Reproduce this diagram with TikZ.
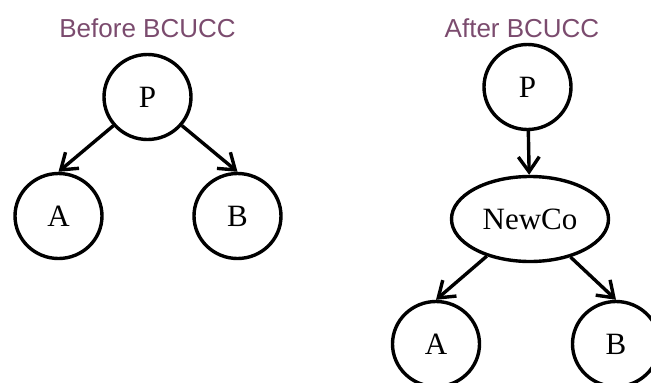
\documentclass[tikz,border=0pt]{standalone}
\usepackage{fontspec}
\setmainfont{Liberation Serif}
\newfontfamily\headfont{Liberation Sans}
\usepackage{xcolor}
\usetikzlibrary{positioning,arrows.meta,shapes.geometric}
\definecolor{headpurple}{HTML}{7B4B6E}

\begin{document}
\begin{tikzpicture}[
    x=1pt, y=-1pt,
    entity/.style={draw, ellipse, line width=3.4pt, inner sep=0pt,
                   minimum width=#1, minimum height=85pt,
                   font=\fontsize{31}{33}\selectfont},
    entity/.default=87pt,
    arrow/.style={-{Straight Barb[length=15pt,width=21pt]}, line width=3.4pt},
    head/.style={font=\headfont\fontsize{26}{28}\selectfont, text=headpurple},
  ]
  \useasboundingbox (0,0) rectangle (651,383);
  \clip (0,0) rectangle (651,383);

  % Before
  \node[entity] (pl) at (147.5,97) {P};
  \node[entity] (al) at (58.5,216) {A};
  \node[entity] (bl) at (237.5,216) {B};
  \node[head] (hl) at (147.5,28) {Before BCUCC};

  % After
  \node[entity] (pr) at (527.5,87) {P};
  \node[entity=157pt] (nc) at (530,219) {NewCo};
  \node[entity] (ar) at (436,344) {A};
  \node[entity] (br) at (616,344) {B};
  \node[head] (hr) at (522,28) {After BCUCC};

  % Arrows
  \draw[arrow] (pl) -- (al.north);
  \draw[arrow] (pl) -- (bl.north);
  \draw[arrow] (pr) -- (nc);
  \draw[arrow] (nc) -- (ar.north);
  \draw[arrow] (nc) -- (br.north);

\end{tikzpicture}
\end{document}
